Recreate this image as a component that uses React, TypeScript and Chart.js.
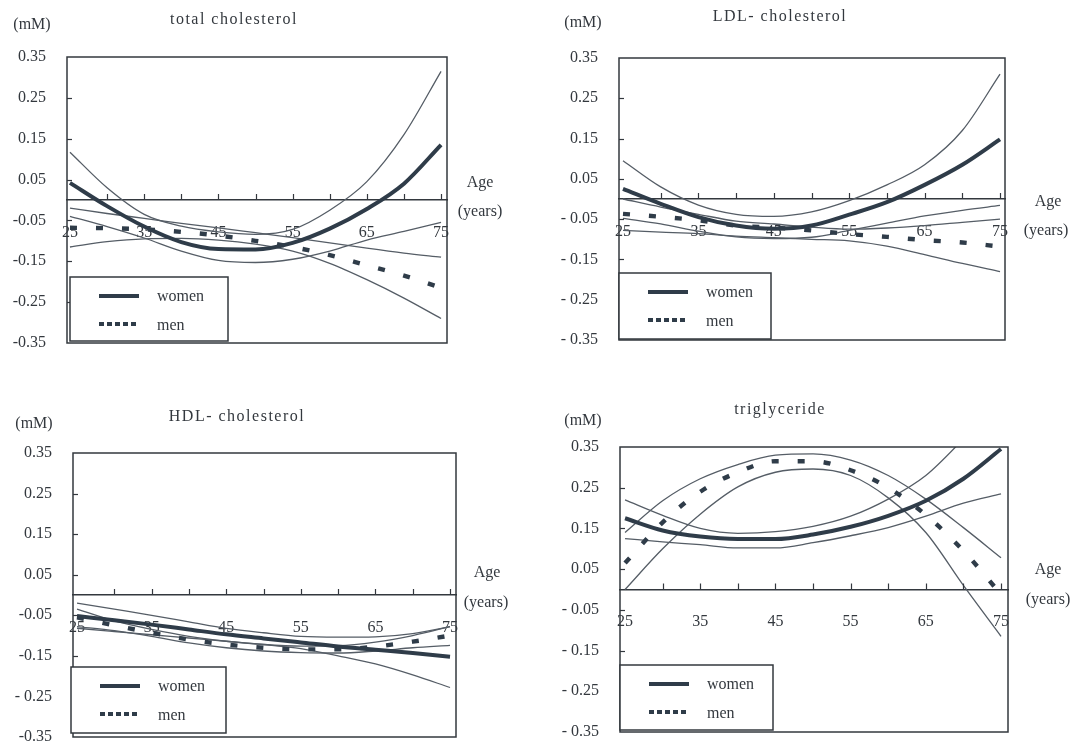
import React, { useEffect, useRef } from 'react';
import { Chart, registerables } from 'chart.js';

Chart.register(...registerables);

// ---------- data ----------
const ages = [25, 30, 35, 40, 45, 50, 55, 60, 65, 70, 75];
const xTickAges = [25, 30, 35, 40, 45, 50, 55, 60, 65, 70, 75];
const xLabelAges = [25, 35, 45, 55, 65, 75];
const yTickValues = [-0.35, -0.25, -0.15, -0.05, 0.05, 0.15, 0.25, 0.35];
const yLabelsPlain = ['-0.35', '-0.25', '-0.15', '-0.05', '0.05', '0.15', '0.25', '0.35'];
const yLabelsSpaced = ['- 0.35', '- 0.25', '- 0.15', '- 0.05', '0.05', '0.15', '0.25', '0.35'];
const yLabelsHdl = ['-0.35', '- 0.25', '-0.15', '-0.05', '0.05', '0.15', '0.25', '0.35'];
const legendLabels = ['women', 'men'];

// total cholesterol
const tcWomen = [0.042, -0.015, -0.065, -0.103, -0.12, -0.121, -0.105, -0.07, -0.022, 0.04, 0.135];
const tcWomenUpper = [0.117, 0.03, -0.035, -0.064, -0.078, -0.084, -0.072, -0.025, 0.045, 0.16, 0.315];
const tcWomenLower = [-0.04, -0.065, -0.093, -0.125, -0.148, -0.153, -0.145, -0.125, -0.098, -0.077, -0.055];
const tcMen = [-0.068, -0.069, -0.072, -0.078, -0.087, -0.1, -0.115, -0.135, -0.16, -0.185, -0.215];
const tcMenUpper = [-0.02, -0.033, -0.045, -0.057, -0.068, -0.08, -0.092, -0.105, -0.118, -0.13, -0.14];
const tcMenLower = [-0.115, -0.102, -0.095, -0.094, -0.098, -0.108, -0.125, -0.155, -0.195, -0.24, -0.29];

// LDL-cholesterol
const ldlWomen = [0.025, -0.012, -0.045, -0.066, -0.074, -0.066, -0.039, -0.008, 0.035, 0.085, 0.148];
const ldlWomenUpper = [0.095, 0.03, -0.015, -0.038, -0.043, -0.032, -0.004, 0.035, 0.085, 0.17, 0.31];
const ldlWomenLower = [-0.048, -0.062, -0.08, -0.094, -0.098, -0.095, -0.078, -0.06, -0.042, -0.028, -0.016];
const ldlMen = [-0.037, -0.044, -0.053, -0.066, -0.071, -0.078, -0.087, -0.094, -0.102, -0.108, -0.118];
const ldlMenUpper = [0.0, -0.02, -0.038, -0.055, -0.062, -0.07, -0.075, -0.072, -0.066, -0.058, -0.05];
const ldlMenLower = [-0.078, -0.082, -0.086, -0.092, -0.096, -0.1, -0.104, -0.117, -0.138, -0.16, -0.18];

// HDL-cholesterol
const hdlWomen = [-0.052, -0.062, -0.073, -0.085, -0.097, -0.107, -0.117, -0.127, -0.135, -0.143, -0.152];
const hdlWomenUpper = [-0.02, -0.035, -0.05, -0.066, -0.082, -0.093, -0.102, -0.104, -0.103, -0.095, -0.078];
const hdlWomenLower = [-0.082, -0.09, -0.098, -0.106, -0.114, -0.122, -0.132, -0.15, -0.17, -0.197, -0.228];
const hdlMen = [-0.055, -0.075, -0.093, -0.11, -0.122, -0.13, -0.134, -0.134, -0.127, -0.115, -0.1];
const hdlMenUpper = [-0.035, -0.064, -0.085, -0.102, -0.114, -0.122, -0.126, -0.125, -0.116, -0.1, -0.078];
const hdlMenLower = [-0.078, -0.088, -0.102, -0.118, -0.13, -0.138, -0.142, -0.143, -0.138, -0.13, -0.124];

// triglyceride
const tgWomen = [0.175, 0.145, 0.13, 0.124, 0.124, 0.135, 0.154, 0.181, 0.218, 0.272, 0.345];
const tgWomenUpper = [0.22, 0.182, 0.15, 0.138, 0.142, 0.155, 0.18, 0.222, 0.28, 0.37, 0.47];
const tgWomenLower = [0.125, 0.117, 0.11, 0.102, 0.102, 0.115, 0.132, 0.152, 0.18, 0.212, 0.235];
const tgMen = [0.065, 0.165, 0.24, 0.288, 0.315, 0.315, 0.293, 0.25, 0.183, 0.095, -0.012];
const tgMenUpper = [0.14, 0.218, 0.272, 0.307, 0.33, 0.333, 0.318, 0.28, 0.222, 0.152, 0.078];
const tgMenLower = [0.0, 0.1, 0.185, 0.252, 0.288, 0.296, 0.28, 0.225, 0.14, 0.01, -0.115];

// ---------- styles ----------
const INK = '#33383e';
const THICK = '#2f3c49';
const THIN = '#555d66';
const FONT = "'Liberation Serif', 'Times New Roman', serif";

type Box = { l: number; t: number; r: number; b: number };
type PanelDef = {
  ox: number; oy: number; w: number; h: number;
  box: Box; xMin: number; xMax: number;
  title: string; titleAt: number[]; unitAt: number[]; ageAt: number[]; yearsAt: number[];
  legend: Box; yLabels: string[];
  women: number[]; womenUp: number[]; womenLo: number[];
  men: number[]; menUp: number[]; menLo: number[];
};

const panels: PanelDef[] = [
  {
    ox: 0, oy: 0, w: 538, h: 374,
    box: { l: 67, t: 57, r: 447, b: 343 }, xMin: 24.6, xMax: 75.8,
    title: 'total cholesterol', titleAt: [234, 20], unitAt: [32, 25], ageAt: [480, 183], yearsAt: [480, 212],
    legend: { l: 70, t: 277, r: 228, b: 341 }, yLabels: yLabelsPlain,
    women: tcWomen, womenUp: tcWomenUpper, womenLo: tcWomenLower,
    men: tcMen, menUp: tcMenUpper, menLo: tcMenLower,
  },
  {
    ox: 538, oy: 0, w: 539, h: 374,
    box: { l: 619, t: 58, r: 1005, b: 340 }, xMin: 24.47, xMax: 75.66,
    title: 'LDL- cholesterol', titleAt: [780, 17], unitAt: [583, 23], ageAt: [1048, 202], yearsAt: [1046, 231],
    legend: { l: 619, t: 273, r: 771, b: 339 }, yLabels: yLabelsSpaced,
    women: ldlWomen, womenUp: ldlWomenUpper, womenLo: ldlWomenLower,
    men: ldlMen, menUp: ldlMenUpper, menLo: ldlMenLower,
  },
  {
    ox: 0, oy: 374, w: 538, h: 374,
    box: { l: 73, t: 453, r: 456, b: 737 }, xMin: 24.46, xMax: 75.8,
    title: 'HDL- cholesterol', titleAt: [237, 417], unitAt: [34, 424], ageAt: [487, 573], yearsAt: [486, 603],
    legend: { l: 71, t: 667, r: 226, b: 733 }, yLabels: yLabelsHdl,
    women: hdlWomen, womenUp: hdlWomenUpper, womenLo: hdlWomenLower,
    men: hdlMen, menUp: hdlMenUpper, menLo: hdlMenLower,
  },
  {
    ox: 538, oy: 374, w: 539, h: 374,
    box: { l: 620, t: 447, r: 1008, b: 732 }, xMin: 24.33, xMax: 75.93,
    title: 'triglyceride', titleAt: [780, 410], unitAt: [583, 421], ageAt: [1048, 570], yearsAt: [1048, 600],
    legend: { l: 620, t: 665, r: 773, b: 730 }, yLabels: yLabelsSpaced,
    women: tgWomen, womenUp: tgWomenUpper, womenLo: tgWomenLower,
    men: tgMen, menUp: tgMenUpper, menLo: tgMenLower,
  },
];

const Y_AXIS_W = 60;

function makeDecor(p: PanelDef) {
  return {
    id: 'panelDecor',
    afterDatasetsDraw(chart: any) {
      const { ctx, chartArea: a, scales } = chart;
      const xs = scales.x;
      const ys = scales.y;
      const lx = (v: number) => v - p.ox;
      const ly = (v: number) => v - p.oy;
      ctx.save();
      // frame
      ctx.strokeStyle = INK;
      ctx.lineWidth = 1.5;
      ctx.setLineDash([]);
      ctx.strokeRect(a.left, a.top, a.right - a.left, a.bottom - a.top);
      // inner y tick marks
      ctx.lineWidth = 1.2;
      yTickValues.forEach((v) => {
        if (Math.abs(v) > 0.3) return;
        const py = Math.round(ys.getPixelForValue(v)) + 0.5;
        ctx.beginPath();
        ctx.moveTo(a.left, py);
        ctx.lineTo(a.left + 5, py);
        ctx.stroke();
      });
      // upward x tick marks on the zero line
      const y0 = ys.getPixelForValue(0);
      xTickAges.forEach((age) => {
        if (age === 25) return;
        const px = Math.round(xs.getPixelForValue(age)) + 0.5;
        ctx.beginPath();
        ctx.moveTo(px, y0);
        ctx.lineTo(px, y0 - 6);
        ctx.stroke();
      });
      // legend
      const L = p.legend;
      const l = lx(L.l), t = ly(L.t), r = lx(L.r), b = ly(L.b);
      ctx.fillStyle = '#ffffff';
      ctx.fillRect(l, t, r - l, b - t);
      ctx.strokeStyle = INK;
      ctx.lineWidth = 1.5;
      ctx.strokeRect(l, t, r - l, b - t);
      const rowA = t + 19;
      const rowB = t + 47;
      ctx.strokeStyle = THICK;
      ctx.lineWidth = 4.2;
      ctx.beginPath();
      ctx.moveTo(l + 29, rowA);
      ctx.lineTo(l + 69, rowA);
      ctx.stroke();
      ctx.setLineDash([5, 3]);
      ctx.beginPath();
      ctx.moveTo(l + 29, rowB);
      ctx.lineTo(l + 69, rowB);
      ctx.stroke();
      ctx.setLineDash([]);
      ctx.fillStyle = INK;
      ctx.font = `16px ${FONT}`;
      ctx.textAlign = 'left';
      ctx.textBaseline = 'middle';
      ctx.fillText(legendLabels[0], l + 87, rowA + 1);
      ctx.fillText(legendLabels[1], l + 87, rowB + 2);
      // texts
      ctx.textAlign = 'center';
      ctx.fillText('(mM)', lx(p.unitAt[0]), ly(p.unitAt[1]));
      ctx.fillText('Age', lx(p.ageAt[0]), ly(p.ageAt[1]));
      ctx.fillText('(years)', lx(p.yearsAt[0]), ly(p.yearsAt[1]));
      (ctx as any).letterSpacing = '1.5px';
      ctx.fillText(p.title, lx(p.titleAt[0]), ly(p.titleAt[1]));
      (ctx as any).letterSpacing = '0px';
      ctx.restore();
    },
  };
}

function series(label: string, data: number[], kind: 'women' | 'men' | 'thin') {
  return {
    label,
    data: ages.map((a, i) => ({ x: a, y: data[i] })),
    borderColor: kind === 'thin' ? THIN : THICK,
    borderWidth: kind === 'thin' ? 1.3 : kind === 'men' ? 4.4 : 4,
    borderDash: kind === 'men' ? [7, 19] : [],
    pointRadius: 0,
    fill: false,
    cubicInterpolationMode: 'monotone',
    tension: 0.4,
  };
}

function Panel({ p }: { p: PanelDef }) {
  const ref = useRef<HTMLCanvasElement | null>(null);
  useEffect(() => {
    if (!ref.current) return;
    const chart = new Chart(ref.current, {
      type: 'line',
      data: {
        datasets: [
          series('women', p.women, 'women'),
          series('men', p.men, 'men'),
          series('women upper 95% CI', p.womenUp, 'thin'),
          series('women lower 95% CI', p.womenLo, 'thin'),
          series('men upper 95% CI', p.menUp, 'thin'),
          series('men lower 95% CI', p.menLo, 'thin'),
        ] as any,
      },
      options: {
        responsive: false,
        animation: false,
        events: [],
        layout: {
          padding: {
            left: p.box.l - p.ox - Y_AXIS_W,
            top: p.box.t - p.oy,
            right: p.ox + p.w - p.box.r,
            bottom: p.oy + p.h - p.box.b,
          },
        },
        plugins: { legend: { display: false }, tooltip: { enabled: false }, title: { display: false } },
        scales: {
          x: {
            type: 'linear',
            min: p.xMin,
            max: p.xMax,
            position: { y: 0 } as any,
            grid: { display: false, drawTicks: false },
            border: { display: true, color: INK, width: 1.5 },
            afterBuildTicks: (s: any) => { s.ticks = xTickAges.map((v) => ({ value: v })); },
            afterFit: (s: any) => { s.paddingLeft = 0; s.paddingRight = 0; },
            ticks: {
              autoSkip: false,
              maxRotation: 0,
              padding: 23,
              color: INK,
              font: { family: FONT, size: 16 },
              callback: (v: any) => (xLabelAges.includes(Number(v)) ? String(v) : ''),
            },
          },
          y: {
            type: 'linear',
            min: -0.35,
            max: 0.35,
            position: 'left',
            grid: { display: false, drawTicks: false },
            border: { display: false },
            afterBuildTicks: (s: any) => { s.ticks = yTickValues.map((v) => ({ value: v })); },
            afterFit: (s: any) => { s.width = Y_AXIS_W; s.paddingTop = 0; s.paddingBottom = 0; },
            ticks: {
              autoSkip: false,
              padding: 21,
              color: INK,
              font: { family: FONT, size: 16 },
              callback: (_v: any, i: number) => p.yLabels[i],
            },
          },
        },
      } as any,
      plugins: [makeDecor(p)],
    });
    return () => chart.destroy();
  }, [p]);
  return (
    <canvas
      ref={ref}
      width={p.w}
      height={p.h}
      style={{ position: 'absolute', left: p.ox, top: p.oy, width: p.w, height: p.h, display: 'block' }}
    />
  );
}

export default function App() {
  return (
    <div style={{ position: 'absolute', left: 0, top: 0, width: 1077, height: 748, background: '#ffffff', overflow: 'hidden' }}>
      {panels.map((p, i) => (
        <Panel key={i} p={p} />
      ))}
    </div>
  );
}
